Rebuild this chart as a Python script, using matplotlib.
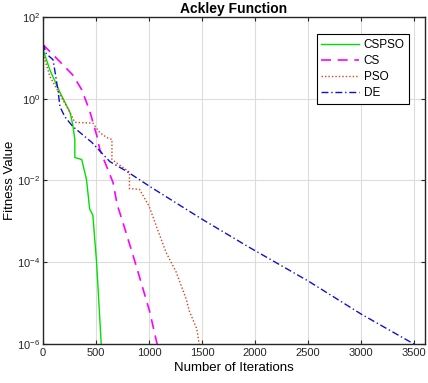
import numpy as np
import matplotlib.pyplot as plt
from matplotlib.ticker import NullLocator

plt.rcParams['font.family'] = ['Liberation Sans', 'DejaVu Sans']

# convergence curves (log10 of fitness)
cspso_iter = [0, 10, 65, 160, 255, 280, 300, 300, 365, 410, 440, 470, 505, 550]
cspso_log = [1.27, 1.12, 0.7, 0.15, -0.34, -0.63, -1.0, -1.44, -1.49, -1.98, -2.7, -2.85, -4.0, -6.05]

cs_iter = [0, 160, 280, 365, 440, 510, 535, 660, 700, 750, 880, 1005, 1080]
cs_log = [1.32, 0.9, 0.58, 0.22, -0.3, -0.93, -1.24, -2.05, -2.6, -3.0, -4.1, -5.2, -6.05]

pso_iter = [0, 65, 255, 300, 470, 535, 600, 650, 650, 790, 815, 815, 910, 1000, 1080,
            1160, 1255, 1350, 1380, 1450, 1475]
pso_log = [1.1, 0.54, -0.34, -0.58, -0.6, -0.83, -0.95, -1.0, -1.49, -1.75, -1.8, -2.2,
           -2.22, -2.63, -3.2, -3.76, -4.24, -4.9, -5.2, -5.63, -6.05]

de_iter = [0, 30, 95, 140, 160, 205, 280, 460, 630, 790, 1020, 1500, 1940, 2500, 3000, 3510]
de_log = [1.35, 1.1, 0.95, 0.22, -0.2, -0.44, -0.68, -1.07, -1.54, -1.78, -2.17, -2.95,
          -3.63, -4.46, -5.27, -6.02]

labels = ['CSPSO', 'CS', 'PSO', 'DE']
x_ticks = [0, 500, 1000, 1500, 2000, 2500, 3000, 3500]
y_ticks = [1e2, 1e0, 1e-2, 1e-4, 1e-6]

fig = plt.figure(figsize=(4.28, 3.83), dpi=100)
ax = fig.add_axes([0.1005, 0.102, 0.892, 0.854])

ax.plot(cspso_iter, 10 ** np.array(cspso_log), color='#00E000', lw=1.0, ls='-', label=labels[0])
ax.plot(cs_iter, 10 ** np.array(cs_log), color='#FF00FF', lw=1.2, ls=(0, (6, 4)), label=labels[1])
ax.plot(pso_iter, 10 ** np.array(pso_log), color='#E0401A', lw=1.0, ls=(0, (1, 1.5)), label=labels[2])
ax.plot(de_iter, 10 ** np.array(de_log), color='#1010D0', lw=1.0, ls=(0, (5, 2, 1, 2)), label=labels[3])

ax.set_yscale('log')
ax.set_xlim(0, 3600)
ax.set_ylim(1e-6, 1e2)
ax.set_xticks(x_ticks)
ax.set_yticks(y_ticks)
ax.yaxis.set_minor_locator(NullLocator())
ax.grid(True, color='#DCDCDC', lw=0.8)
ax.set_axisbelow(True)
ax.tick_params(direction='in', length=3, labelsize=8, top=True, right=True,
               colors='#262626', pad=3)
ax.tick_params(axis='y', pad=2)
for s in ax.spines.values():
    s.set_color('#262626')
    s.set_linewidth(1.0)

ax.set_title('Ackley Function', fontsize=10, fontweight='bold', pad=3)
ax.set_xlabel('Number of Iterations', fontsize=9.5, labelpad=3)
ax.set_ylabel('Fitness Value', fontsize=9.5)
ax.yaxis.set_label_coords(-0.072, 0.5)

leg = ax.legend(loc='upper right', bbox_to_anchor=(0.975, 0.965), fontsize=8.5,
                frameon=True, fancybox=False, edgecolor='black', framealpha=1,
                handlelength=3.2, handletextpad=0.4, labelspacing=0.35, borderpad=0.4)
leg.get_frame().set_linewidth(0.8)

fig.savefig('out.png', dpi=100)
